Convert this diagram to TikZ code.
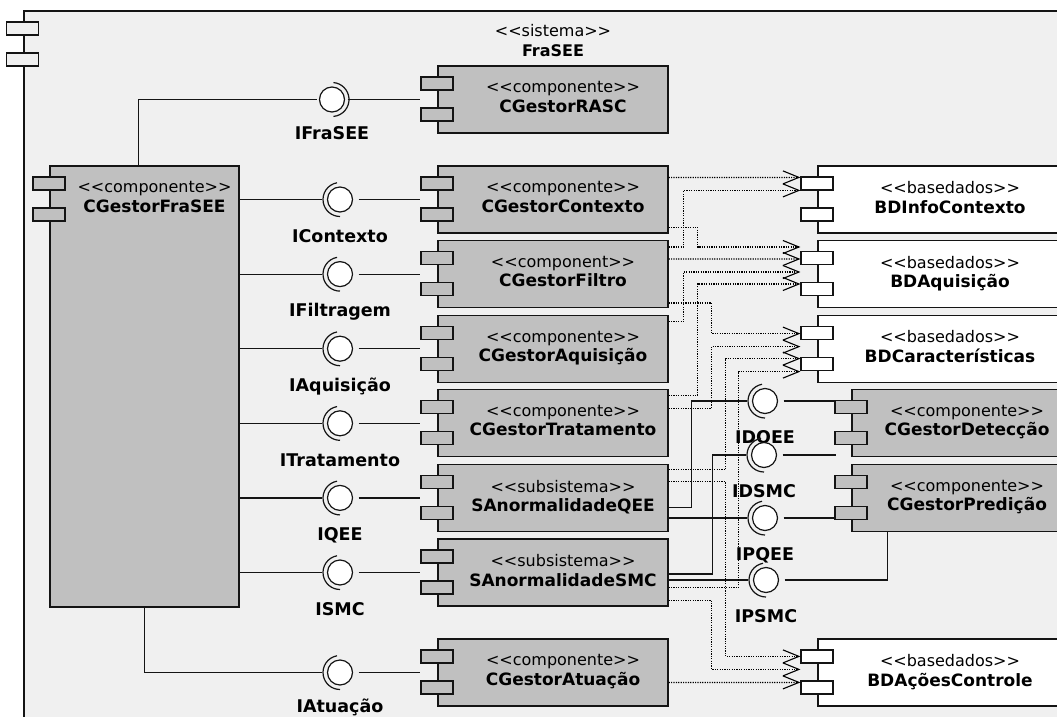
\documentclass[tikz,border=0pt]{standalone}
\usepackage{fontspec}
\setmainfont{DejaVu Sans}
\usetikzlibrary{positioning}
\usetikzlibrary{arrows.meta}
\definecolor{framegray}{RGB}{240,240,240}
\definecolor{compgray}{RGB}{192,192,192}
\definecolor{edgecol}{RGB}{20,20,20}
\newcommand{\stereo}[1]{<\kern0pt<#1>\kern0pt>}
\newcommand{\cname}[1]{{\fontsize{17}{19.3}\selectfont\bfseries #1}}
\tikzstyle{body} = [rectangle, draw=edgecol, line width=1.2pt, minimum height=67pt, inner sep=0pt]
\tikzstyle{port} = [rectangle, draw=edgecol, line width=1.2pt, minimum width=32pt, minimum height=13pt, inner sep=0pt, anchor=north west, xshift=-17pt]
\tikzstyle{ctext} = [anchor=north, align=center, inner sep=0pt, xshift=10pt, yshift=-16pt, font=\fontsize{16}{19.3}\selectfont]
\tikzstyle{iface} = [circle, draw=edgecol, fill=white, line width=1.2pt, minimum size=25pt, inner sep=0pt, outer sep=6pt]
\tikzstyle{ilabel} = [font=\fontsize{17.5}{20}\selectfont\bfseries, inner sep=0pt, text height=13pt, text depth=4pt, yshift=-11pt]
\tikzstyle{socket} = [draw=edgecol, line width=1.2pt]
\tikzstyle{wire} = [draw=edgecol, line width=1.2pt]
\tikzstyle{dep} = [draw=black, line width=1.2pt, dash pattern=on 1.2pt off 1.2pt, -{Straight Barb[length=16pt, width=13pt, line width=1.1pt]}]
\tikzset{
  ports/.style={label={[port, fill=#1, yshift=-11pt]north west:{}}, label={[port, fill=#1, yshift=-42pt]north west:{}}},
  comp/.style={body, fill=compgray, minimum width=230pt, ports=compgray},
  bd/.style={body, fill=white, minimum width=244pt, ports=white},
  ctitle/.style 2 args={label={[ctext]north:{\stereo{#1}\\\cname{#2}}}}
}
\begin{document}
\begin{tikzpicture}[x=1pt, y=-1pt]
  \useasboundingbox (0,0) rectangle (1057,717);
  \clip (0,0) rectangle (1057,717);
  % Place nodes
  \node [body, fill=framegray, line width=1.5pt, minimum width=1100pt, minimum height=800pt, anchor=north west, ports=framegray] (sys) at (23,10.5) {};
  \node [font=\fontsize{16}{20}\selectfont, align=center] (systitle) at (553,40.5) {\stereo{sistema}\\\textbf{FraSEE}};
  \node [comp, minimum width=189pt, minimum height=441pt, ctitle={componente}{CGestorFraSEE}] (fra) at (144.5,386.5) {};
  \node [comp, ctitle={componente}{CGestorRASC}] (rasc) at (553,99.5) {};
  \node [comp, below=31.8pt of rasc, ctitle={componente}{CGestorContexto}] (ctx) {};
  \node [comp, below=6.4pt of ctx, ctitle={component}{CGestorFiltro}] (filtro) {};
  \node [comp, below=6.4pt of filtro, ctitle={componente}{CGestorAquisição}] (aquis) {};
  \node [comp, below=6.4pt of aquis, ctitle={componente}{CGestorTratamento}] (trat) {};
  \node [comp, below=6.4pt of trat, ctitle={subsistema}{SAnormalidadeQEE}] (sqee) {};
  \node [comp, below=6.4pt of sqee, ctitle={subsistema}{SAnormalidadeSMC}] (ssmc) {};
  \node [comp, below=31.8pt of ssmc, ctitle={componente}{CGestorAtuação}] (atua) {};
  \node [bd, ctitle={basedados}{BDInfoContexto}] (bdinfo) at (940,199.5) {};
  \node [bd, below=6.4pt of bdinfo, ctitle={basedados}{BDAquisição}] (bdaq) {};
  \node [bd, below=6.4pt of bdaq, ctitle={basedados}{BDCaracterísticas}] (bdcar) {};
  \node [comp, minimum width=210pt, ctitle={componente}{CGestorDetecção}] (detec) at (957,423.3) {};
  \node [comp, minimum width=210pt, below=6.4pt of detec, ctitle={componente}{CGestorPredição}] (pred) {};
  \node [bd, ctitle={basedados}{BDAçõesControle}] (bdac) at (940,672.5) {};
  % Interfaces
  \node [iface, outer sep=3pt, label={[ilabel]below:IFraSEE}] (ifrasee) at (332,99.5) {};
  \node [iface, left=78.9pt of ctx, label={[ilabel]below:IContexto}] (ictx) {};
  \node [iface, left=78.9pt of filtro, label={[ilabel]below:IFiltragem}] (ifilt) {};
  \node [iface, left=78.9pt of aquis, label={[ilabel]below:IAquisição}] (iaq) {};
  \node [iface, left=78.9pt of trat, label={[ilabel]below:ITratamento}] (itrat) {};
  \node [iface, left=78.9pt of sqee, label={[ilabel]below:IQEE}] (iqee) {};
  \node [iface, left=78.9pt of ssmc, label={[ilabel]below:ISMC}] (ismc) {};
  \node [iface, left=78.9pt of atua, label={[ilabel, yshift=2.5pt]below:IAtuação}] (iatu) {};
  \node [iface, label={[ilabel]below:IDQEE}] (idqee) at (765,401) {};
  \node [iface, label={[ilabel]below:IDSMC}] (idsmc) at (764,455) {};
  \node [iface, label={[ilabel]below:IPQEE}] (ipqee) at (765,518) {};
  \node [iface, label={[ilabel]below:IPSMC}] (ipsmc) at (766,580) {};
  \foreach \s in {ictx, ifilt, iaq, itrat, iqee, ismc, iatu, idqee, idsmc, ipqee, ipsmc}
    \draw [socket] (\s.center) ++(100:17pt) arc [start angle=100, end angle=270, radius=17pt];
  \draw [socket] (ifrasee.center) ++(-85:17pt) arc [start angle=-85, end angle=85, radius=17pt];
  % Draw edges
  \path [wire] ([xshift=-6pt]fra.north) |- (ifrasee);
  \path [wire] (ifrasee) -- ([xshift=-17pt]rasc.west);
  \path [wire] (fra.east |- ictx) -- (ictx);
  \path [wire] (ictx) -- ([xshift=-17pt]ctx.west);
  \path [wire] (fra.east |- ifilt) -- (ifilt);
  \path [wire] (ifilt) -- ([xshift=-17pt]filtro.west);
  \path [wire] (fra.east |- iaq) -- (iaq);
  \path [wire] (iaq) -- ([xshift=-17pt]aquis.west);
  \path [wire] (fra.east |- itrat) -- (itrat);
  \path [wire] (itrat) -- ([xshift=-17pt]trat.west);
  \path [wire] (fra.east |- iqee) -- (iqee);
  \path [wire] (iqee) -- ([xshift=-17pt]sqee.west);
  \path [wire] (fra.east |- ismc) -- (ismc);
  \path [wire] (ismc) -- ([xshift=-17pt]ssmc.west);
  \path [wire] (fra.south) |- (iatu);
  \path [wire] (iatu) -- ([xshift=-17pt]atua.west);
  \path [wire] ([yshift=-9.5pt]sqee.east) -- ++(23pt,0) |- (idqee);
  \path [wire] (idqee) -- ([xshift=-17pt]detec.west |- idqee);
  \path [wire] ([yshift=-1.5pt]ssmc.east) -- ++(44pt,0) |- (idsmc);
  \path [wire] (idsmc) -- ([xshift=-15pt]detec.west |- idsmc);
  \path [wire] (sqee.east |- ipqee) -- (ipqee);
  \path [wire] (ipqee) -- ([xshift=-17pt]pred.west |- ipqee);
  \path [wire] (ssmc.east |- ipsmc) -- (ipsmc);
  \path [wire] (ipsmc) -| ([xshift=36pt]pred.south west);
  % Dependencies on the data bases
  \path [dep] ([yshift=-12pt]ctx.north east) -- ([xshift=-17pt, yshift=-12pt]bdinfo.north west);
  \path [dep] ([yshift=-7pt]filtro.north east) -- ++(15pt,0) |- ([xshift=-17pt, yshift=-25pt]bdinfo.north west);
  \path [dep] ([yshift=-62pt]ctx.north east) -- ++(29pt,0) |- ([xshift=-17pt, yshift=-7pt]bdaq.north west);
  \path [dep] ([yshift=-19pt]filtro.north east) -- ([xshift=-17pt, yshift=-19pt]bdaq.north west);
  \path [dep] ([yshift=-7pt]aquis.north east) -- ++(15pt,0) |- ([xshift=-17pt, yshift=-32pt]bdaq.north west);
  \path [dep] ([yshift=-6pt]trat.north east) -- ++(29pt,0) |- ([xshift=-17pt, yshift=-44pt]bdaq.north west);
  \path [dep] ([yshift=-63pt]filtro.north east) -- ++(43pt,0) |- ([xshift=-17pt, yshift=-19pt]bdcar.north west);
  \path [dep] ([yshift=-19pt]trat.north east) -- ++(43pt,0) |- ([xshift=-17pt, yshift=-32pt]bdcar.north west);
  \path [dep] ([yshift=-6pt]sqee.north east) -- ++(57pt,0) |- ([xshift=-17pt, yshift=-44pt]bdcar.north west);
  \path [dep] ([yshift=-49pt]ssmc.north east) -- ++(70pt,0) |- ([xshift=-17pt, yshift=-57pt]bdcar.north west);
  \path [dep] ([yshift=-18pt]sqee.north east) -- ++(57pt,0) |- ([xshift=-17pt, yshift=-18pt]bdac.north west);
  \path [dep] ([yshift=-62pt]ssmc.north east) -- ++(43pt,0) |- ([xshift=-17pt, yshift=-31pt]bdac.north west);
  \path [dep] ([yshift=-44pt]atua.north east) -- ([xshift=-17pt, yshift=-44pt]bdac.north west);
\end{tikzpicture}
\end{document}
